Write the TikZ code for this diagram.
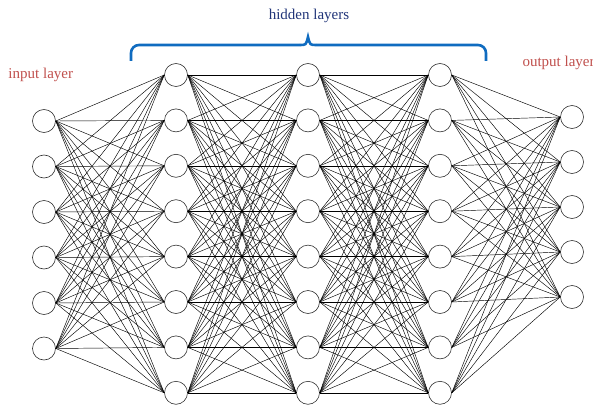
\documentclass[tikz,border=0pt]{standalone}
\usepackage{fontspec}
\setmainfont{Liberation Serif}
\usepackage{tikz}

\definecolor{layerred}{RGB}{192,80,77}
\definecolor{hiddenblue}{RGB}{32,52,120}
\definecolor{braceblue}{RGB}{16,108,192}

\begin{document}
\begin{tikzpicture}[x=1pt,y=-1pt,
		neuron/.style={circle,draw=black!80,line width=0.6pt,fill=white,minimum size=23pt,inner sep=0pt},
		layertext/.style={font=\fontsize{15}{18}\selectfont,inner sep=0pt,anchor=base west}]
	\useasboundingbox (0,0) rectangle (593,406);

	\begin{scope}[every node/.style={neuron}]
		\foreach \i in {1,...,6}
			\node (I\i) at (44,{121+45.5*(\i-1)}) {};
		\foreach \i in {1,...,8} {
			\node (A\i) at (176,{75+45.4*(\i-1)}) {};
			\node (B\i) at (308,{75+45.4*(\i-1)}) {};
			\node (C\i) at (440,{75+45.4*(\i-1)}) {};
		}
		\foreach \i in {1,...,5}
			\node (O\i) at (572,{117+45*(\i-1)}) {};
	\end{scope}

	\begin{scope}[every path/.style={draw=black,line width=0.45pt}]
		\foreach \i in {1,...,6}
			\foreach \j in {1,...,8}
				\path (I\i.east) edge (A\j.west);
		\foreach \i in {1,...,8}
			\foreach \j in {1,...,8} {
				\path (A\i.east) edge (B\j.west);
				\path (B\i.east) edge (C\j.west);
			}
		\foreach \i in {1,...,8}
			\foreach \j in {1,...,5}
				\path (C\i.east) edge (O\j.west);
	\end{scope}

	% brace over the hidden layers
	\coordinate (bl) at (131,61);
	\coordinate (br) at (486,61);
	\coordinate (tip) at (308,37);
	\coordinate (tl) at (300,45);
	\coordinate (tr) at (316,45);
	\draw [braceblue,line width=2.6pt,rounded corners=8pt] (bl) |- (tl);
	\draw [braceblue,line width=2.6pt,rounded corners=8pt] (tr) -| (br);
	\draw [braceblue,line width=2.6pt] (tl) .. controls (306,45) .. (tip) .. controls (310,45) .. (tr);

	\node [layertext,text=layerred] (inlabel) at (8.3,79) {input layer};
	\node [layertext,text=hiddenblue,anchor=base] (hidlabel) at (309,20) {hidden layers};
	\node [layertext,text=layerred] (outlabel) at (522.3,66.7) {output layer};
\end{tikzpicture}
\end{document}
